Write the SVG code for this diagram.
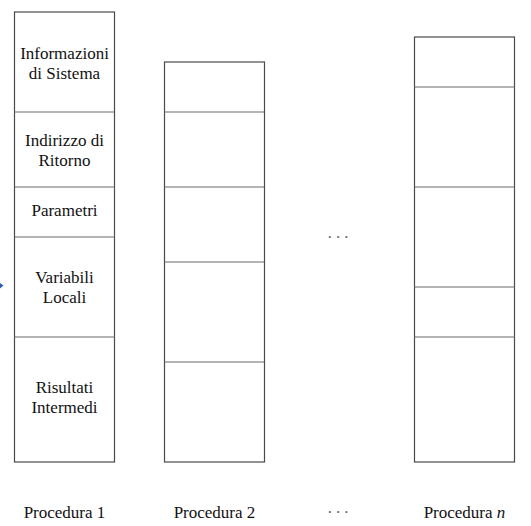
<svg xmlns="http://www.w3.org/2000/svg" width="531" height="526" viewBox="0 0 531 526">
<style>
.box{fill:#fff;stroke:#4a4a4a;stroke-width:1.2}
.div{stroke:#6a6a6a;stroke-width:1.2}
.t{font-family:'Liberation Serif','Times New Roman',serif;font-size:17px;fill:#111;text-anchor:middle}
.dots{fill:#666;letter-spacing:2.6px}
</style>
<rect width="531" height="526" fill="#fff"/>
<g id="connectors">
<polygon points="0,283 3.5,285.6 0,288.5" fill="#2b5fb8"/>
</g>
<g id="procedura1">
<rect class="box" x="14.5" y="12" width="100" height="450"/>
<line class="div" x1="14.5" y1="112" x2="114.5" y2="112"/>
<line class="div" x1="14.5" y1="187" x2="114.5" y2="187"/>
<line class="div" x1="14.5" y1="237" x2="114.5" y2="237"/>
<line class="div" x1="14.5" y1="337" x2="114.5" y2="337"/>
<text class="t" x="64.5" y="59">Informazioni</text>
<text class="t" x="64.5" y="79">di Sistema</text>
<text class="t" x="64.5" y="146">Indirizzo di</text>
<text class="t" x="64.5" y="166">Ritorno</text>
<text class="t" x="64.5" y="216">Parametri</text>
<text class="t" x="64.5" y="283">Variabili</text>
<text class="t" x="64.5" y="303">Locali</text>
<text class="t" x="64.5" y="393">Risultati</text>
<text class="t" x="64.5" y="413">Intermedi</text>
<text class="t" x="64.5" y="518">Procedura 1</text>
</g>
<g id="procedura2">
<rect class="box" x="164.5" y="62" width="100" height="400"/>
<line class="div" x1="164.5" y1="112" x2="264.5" y2="112"/>
<line class="div" x1="164.5" y1="187" x2="264.5" y2="187"/>
<line class="div" x1="164.5" y1="262" x2="264.5" y2="262"/>
<line class="div" x1="164.5" y1="362" x2="264.5" y2="362"/>
<text class="t" x="214.5" y="518">Procedura 2</text>
</g>
<g id="ellipsis">
<text class="t dots" x="339.3" y="242.5">···</text>
<text class="t dots" x="339.3" y="517.5">···</text>
</g>
<g id="proceduran">
<rect class="box" x="414.5" y="37" width="100" height="425"/>
<line class="div" x1="414.5" y1="87" x2="514.5" y2="87"/>
<line class="div" x1="414.5" y1="187" x2="514.5" y2="187"/>
<line class="div" x1="414.5" y1="287" x2="514.5" y2="287"/>
<line class="div" x1="414.5" y1="337" x2="514.5" y2="337"/>
<text class="t" x="464.5" y="518">Procedura <tspan font-style="italic">n</tspan></text>
</g>
</svg>
